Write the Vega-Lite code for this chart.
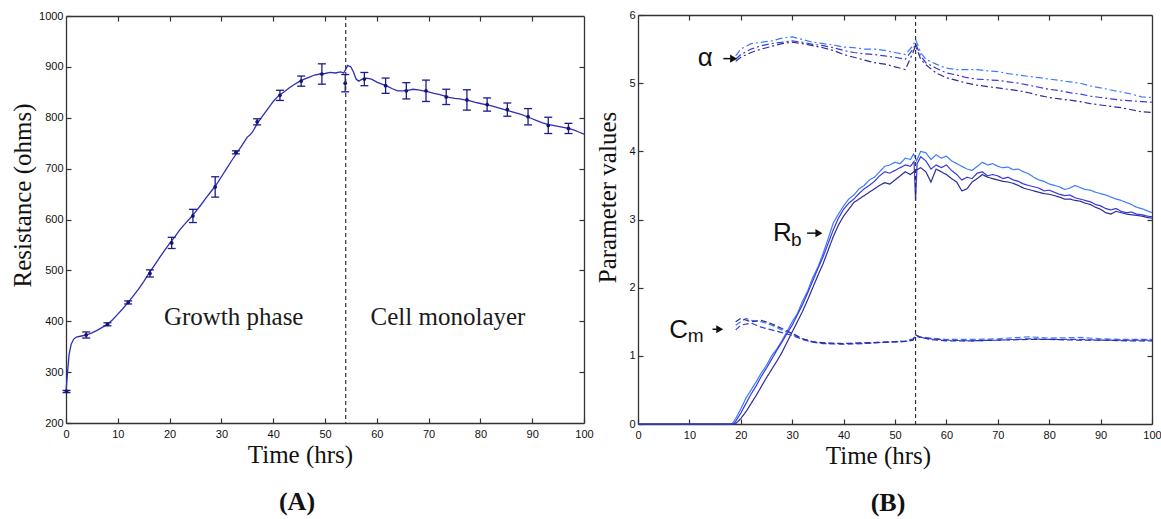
{
"$schema": "https://vega.github.io/schema/vega-lite/v6.json",
"background": "white",
"padding": {"left": 10, "top": 9, "right": 5, "bottom": 5},
"config": {
  "view": {"stroke": null},
  "font": "Liberation Sans",
  "axis": {"domainColor": "#333", "domainWidth": 1.3, "tickColor": "#333", "tickSize": -5, "tickWidth": 1.2, "labelFont": "Liberation Sans", "labelFontSize": 11, "labelColor": "#111", "grid": false, "titleFont": "Liberation Serif", "titleFontSize": 25, "titleFontWeight": "normal", "titleColor": "#111", "labelFlush": false, "labelOverlap": false, "format": "d"}
},
"datasets": {
  "lineA": [
    {"t":0,"v":262},{"t":0.3,"v":300},{"t":0.6,"v":335},{"t":1,"v":355},{"t":1.5,"v":365},{"t":2,"v":369},{"t":3,"v":371},{"t":4,"v":373},{"t":5,"v":377},{"t":6,"v":382},{"t":7,"v":388},{"t":8,"v":394},{"t":9,"v":403},{"t":10,"v":414},{"t":11,"v":425},{"t":12,"v":437},{"t":13,"v":450},{"t":14,"v":463},{"t":15,"v":478},{"t":16,"v":494},{"t":17,"v":509},{"t":18,"v":524},{"t":19,"v":539},{"t":20,"v":553},{"t":21,"v":566},{"t":22,"v":580},{"t":23,"v":592},{"t":24,"v":603},{"t":25,"v":615},{"t":26,"v":628},{"t":27,"v":642},{"t":28,"v":655},{"t":29,"v":668},{"t":30,"v":684},{"t":31,"v":700},{"t":32,"v":716},{"t":33,"v":731},{"t":34,"v":746},{"t":35,"v":762},{"t":35.5,"v":766},{"t":36,"v":772},{"t":37,"v":790},{"t":38,"v":804},{"t":39,"v":818},{"t":40,"v":832},{"t":41,"v":843},{"t":42,"v":850},{"t":43,"v":858},{"t":44,"v":865},{"t":45,"v":871},{"t":46,"v":876},{"t":47,"v":880},{"t":48,"v":884},{"t":49,"v":886},{"t":50,"v":887},{"t":51,"v":889},{"t":52,"v":888},{"t":53,"v":890},{"t":53.6,"v":888},{"t":54,"v":895},{"t":54.4,"v":903},{"t":55,"v":900},{"t":55.5,"v":890},{"t":56,"v":876},{"t":56.5,"v":872},{"t":57,"v":875},{"t":58,"v":878},{"t":59,"v":876},{"t":60,"v":870},{"t":61,"v":866},{"t":62,"v":862},{"t":63,"v":857},{"t":64,"v":853},{"t":65,"v":853},{"t":66,"v":854},{"t":67,"v":856},{"t":68,"v":855},{"t":69,"v":853},{"t":70,"v":851},{"t":71,"v":848},{"t":72,"v":846},{"t":73,"v":843},{"t":74,"v":840},{"t":75,"v":838},{"t":76,"v":837},{"t":77,"v":835},{"t":78,"v":833},{"t":79,"v":830},{"t":80,"v":828},{"t":81,"v":826},{"t":82,"v":824},{"t":83,"v":821},{"t":84,"v":818},{"t":85,"v":815},{"t":86,"v":812},{"t":87,"v":809},{"t":88,"v":806},{"t":89,"v":802},{"t":90,"v":798},{"t":91,"v":794},{"t":92,"v":790},{"t":93,"v":787},{"t":94,"v":785},{"t":95,"v":783},{"t":96,"v":781},{"t":97,"v":779},{"t":98,"v":776},{"t":99,"v":772},{"t":100,"v":768}
  ],
  "errA": [
    {"t":0.1,"v":262,"lo":260,"hi":264},{"t":3.9,"v":373,"lo":367,"hi":379},{"t":8,"v":394,"lo":391,"hi":397},{"t":12,"v":437,"lo":434,"hi":440},{"t":16.2,"v":494,"lo":487,"hi":501},{"t":20.4,"v":554,"lo":543,"hi":565},{"t":24.5,"v":607,"lo":594,"hi":620},{"t":28.8,"v":664,"lo":644,"hi":684},{"t":32.8,"v":732,"lo":729,"hi":735},{"t":36.9,"v":792,"lo":786,"hi":798},{"t":41.3,"v":844,"lo":834,"hi":854},{"t":45.4,"v":872,"lo":862,"hi":882},{"t":49.4,"v":886,"lo":866,"hi":906},{"t":53.9,"v":868,"lo":851,"hi":885},{"t":57.6,"v":876,"lo":863,"hi":889},{"t":61.7,"v":863,"lo":848,"hi":878},{"t":65.7,"v":853,"lo":837,"hi":869},{"t":69.5,"v":853,"lo":832,"hi":874},{"t":73.4,"v":841,"lo":826,"hi":856},{"t":77.4,"v":835,"lo":815,"hi":855},{"t":81.3,"v":826,"lo":813,"hi":839},{"t":85.2,"v":816,"lo":803,"hi":829},{"t":89.2,"v":802,"lo":786,"hi":818},{"t":93.1,"v":785,"lo":769,"hi":801},{"t":97,"v":779,"lo":769,"hi":789}
  ],
  "annA": [{"t":18.9,"v":392,"s":"Growth phase"},{"t":58.8,"v":392,"s":"Cell monolayer"}],
  "vline": [{"t":54}],
  "params": [
    {"p":"Rb","r":1,"t":0,"v":0},{"p":"Rb","r":1,"t":18.3,"v":0},{"p":"Rb","r":1,"t":19,"v":0.08},{"p":"Rb","r":1,"t":20,"v":0.22},{"p":"Rb","r":1,"t":21,"v":0.38},{"p":"Rb","r":1,"t":22,"v":0.5},{"p":"Rb","r":1,"t":23,"v":0.62},{"p":"Rb","r":1,"t":24,"v":0.75},{"p":"Rb","r":1,"t":25,"v":0.86},{"p":"Rb","r":1,"t":26,"v":1.0},{"p":"Rb","r":1,"t":27,"v":1.1},{"p":"Rb","r":1,"t":28,"v":1.22},{"p":"Rb","r":1,"t":29,"v":1.36},{"p":"Rb","r":1,"t":30,"v":1.5},{"p":"Rb","r":1,"t":31,"v":1.62},{"p":"Rb","r":1,"t":32,"v":1.8},{"p":"Rb","r":1,"t":33,"v":1.95},{"p":"Rb","r":1,"t":34,"v":2.15},{"p":"Rb","r":1,"t":35,"v":2.3},{"p":"Rb","r":1,"t":36,"v":2.5},{"p":"Rb","r":1,"t":37,"v":2.72},{"p":"Rb","r":1,"t":38,"v":2.95},{"p":"Rb","r":1,"t":39,"v":3.08},{"p":"Rb","r":1,"t":40,"v":3.2},{"p":"Rb","r":1,"t":41,"v":3.3},{"p":"Rb","r":1,"t":42,"v":3.36},{"p":"Rb","r":1,"t":43,"v":3.45},{"p":"Rb","r":1,"t":44,"v":3.5},{"p":"Rb","r":1,"t":45,"v":3.58},{"p":"Rb","r":1,"t":46,"v":3.62},{"p":"Rb","r":1,"t":47,"v":3.7},{"p":"Rb","r":1,"t":48,"v":3.78},{"p":"Rb","r":1,"t":49,"v":3.8},{"p":"Rb","r":1,"t":50,"v":3.84},{"p":"Rb","r":1,"t":51,"v":3.82},{"p":"Rb","r":1,"t":52,"v":3.9},{"p":"Rb","r":1,"t":53,"v":3.88},{"p":"Rb","r":1,"t":53.6,"v":3.96},{"p":"Rb","r":1,"t":54.2,"v":3.86},{"p":"Rb","r":1,"t":55,"v":4.0},{"p":"Rb","r":1,"t":56,"v":3.98},{"p":"Rb","r":1,"t":57,"v":3.88},{"p":"Rb","r":1,"t":58,"v":3.95},{"p":"Rb","r":1,"t":59,"v":3.9},{"p":"Rb","r":1,"t":60,"v":3.93},{"p":"Rb","r":1,"t":61,"v":3.86},{"p":"Rb","r":1,"t":62,"v":3.82},{"p":"Rb","r":1,"t":63,"v":3.78},{"p":"Rb","r":1,"t":64,"v":3.74},{"p":"Rb","r":1,"t":65,"v":3.72},{"p":"Rb","r":1,"t":66,"v":3.78},{"p":"Rb","r":1,"t":67,"v":3.84},{"p":"Rb","r":1,"t":68,"v":3.8},{"p":"Rb","r":1,"t":69,"v":3.82},{"p":"Rb","r":1,"t":70,"v":3.78},{"p":"Rb","r":1,"t":71,"v":3.76},{"p":"Rb","r":1,"t":72,"v":3.77},{"p":"Rb","r":1,"t":73,"v":3.73},{"p":"Rb","r":1,"t":74,"v":3.74},{"p":"Rb","r":1,"t":75,"v":3.7},{"p":"Rb","r":1,"t":76,"v":3.67},{"p":"Rb","r":1,"t":77,"v":3.62},{"p":"Rb","r":1,"t":78,"v":3.58},{"p":"Rb","r":1,"t":79,"v":3.56},{"p":"Rb","r":1,"t":80,"v":3.52},{"p":"Rb","r":1,"t":81,"v":3.5},{"p":"Rb","r":1,"t":82,"v":3.48},{"p":"Rb","r":1,"t":83,"v":3.44},{"p":"Rb","r":1,"t":84,"v":3.46},{"p":"Rb","r":1,"t":85,"v":3.5},{"p":"Rb","r":1,"t":86,"v":3.47},{"p":"Rb","r":1,"t":87,"v":3.44},{"p":"Rb","r":1,"t":88,"v":3.43},{"p":"Rb","r":1,"t":89,"v":3.4},{"p":"Rb","r":1,"t":90,"v":3.38},{"p":"Rb","r":1,"t":91,"v":3.36},{"p":"Rb","r":1,"t":92,"v":3.33},{"p":"Rb","r":1,"t":93,"v":3.3},{"p":"Rb","r":1,"t":94,"v":3.28},{"p":"Rb","r":1,"t":95,"v":3.25},{"p":"Rb","r":1,"t":96,"v":3.22},{"p":"Rb","r":1,"t":97,"v":3.18},{"p":"Rb","r":1,"t":98,"v":3.16},{"p":"Rb","r":1,"t":99,"v":3.13},{"p":"Rb","r":1,"t":100,"v":3.1},
    {"p":"Rb","r":2,"t":0,"v":0},{"p":"Rb","r":2,"t":18.6,"v":0},{"p":"Rb","r":2,"t":19,"v":0.04},{"p":"Rb","r":2,"t":20,"v":0.16},{"p":"Rb","r":2,"t":21,"v":0.3},{"p":"Rb","r":2,"t":22,"v":0.44},{"p":"Rb","r":2,"t":23,"v":0.56},{"p":"Rb","r":2,"t":24,"v":0.7},{"p":"Rb","r":2,"t":25,"v":0.82},{"p":"Rb","r":2,"t":26,"v":0.95},{"p":"Rb","r":2,"t":27,"v":1.08},{"p":"Rb","r":2,"t":28,"v":1.2},{"p":"Rb","r":2,"t":29,"v":1.33},{"p":"Rb","r":2,"t":30,"v":1.45},{"p":"Rb","r":2,"t":31,"v":1.6},{"p":"Rb","r":2,"t":32,"v":1.75},{"p":"Rb","r":2,"t":33,"v":1.92},{"p":"Rb","r":2,"t":34,"v":2.1},{"p":"Rb","r":2,"t":35,"v":2.28},{"p":"Rb","r":2,"t":36,"v":2.45},{"p":"Rb","r":2,"t":37,"v":2.65},{"p":"Rb","r":2,"t":38,"v":2.85},{"p":"Rb","r":2,"t":39,"v":3.02},{"p":"Rb","r":2,"t":40,"v":3.15},{"p":"Rb","r":2,"t":41,"v":3.24},{"p":"Rb","r":2,"t":42,"v":3.3},{"p":"Rb","r":2,"t":43,"v":3.38},{"p":"Rb","r":2,"t":44,"v":3.45},{"p":"Rb","r":2,"t":45,"v":3.5},{"p":"Rb","r":2,"t":46,"v":3.56},{"p":"Rb","r":2,"t":47,"v":3.64},{"p":"Rb","r":2,"t":48,"v":3.7},{"p":"Rb","r":2,"t":49,"v":3.68},{"p":"Rb","r":2,"t":50,"v":3.72},{"p":"Rb","r":2,"t":51,"v":3.76},{"p":"Rb","r":2,"t":52,"v":3.8},{"p":"Rb","r":2,"t":53,"v":3.78},{"p":"Rb","r":2,"t":53.7,"v":3.85},{"p":"Rb","r":2,"t":54,"v":3.27},{"p":"Rb","r":2,"t":54.3,"v":3.82},{"p":"Rb","r":2,"t":55,"v":3.92},{"p":"Rb","r":2,"t":56,"v":3.86},{"p":"Rb","r":2,"t":57,"v":3.74},{"p":"Rb","r":2,"t":58,"v":3.8},{"p":"Rb","r":2,"t":59,"v":3.76},{"p":"Rb","r":2,"t":60,"v":3.8},{"p":"Rb","r":2,"t":61,"v":3.72},{"p":"Rb","r":2,"t":62,"v":3.66},{"p":"Rb","r":2,"t":63,"v":3.58},{"p":"Rb","r":2,"t":64,"v":3.62},{"p":"Rb","r":2,"t":65,"v":3.6},{"p":"Rb","r":2,"t":66,"v":3.68},{"p":"Rb","r":2,"t":67,"v":3.7},{"p":"Rb","r":2,"t":68,"v":3.64},{"p":"Rb","r":2,"t":69,"v":3.66},{"p":"Rb","r":2,"t":70,"v":3.64},{"p":"Rb","r":2,"t":71,"v":3.6},{"p":"Rb","r":2,"t":72,"v":3.62},{"p":"Rb","r":2,"t":73,"v":3.58},{"p":"Rb","r":2,"t":74,"v":3.56},{"p":"Rb","r":2,"t":75,"v":3.52},{"p":"Rb","r":2,"t":76,"v":3.5},{"p":"Rb","r":2,"t":77,"v":3.48},{"p":"Rb","r":2,"t":78,"v":3.46},{"p":"Rb","r":2,"t":79,"v":3.42},{"p":"Rb","r":2,"t":80,"v":3.43},{"p":"Rb","r":2,"t":81,"v":3.4},{"p":"Rb","r":2,"t":82,"v":3.37},{"p":"Rb","r":2,"t":83,"v":3.35},{"p":"Rb","r":2,"t":84,"v":3.36},{"p":"Rb","r":2,"t":85,"v":3.32},{"p":"Rb","r":2,"t":86,"v":3.3},{"p":"Rb","r":2,"t":87,"v":3.28},{"p":"Rb","r":2,"t":88,"v":3.26},{"p":"Rb","r":2,"t":89,"v":3.22},{"p":"Rb","r":2,"t":90,"v":3.2},{"p":"Rb","r":2,"t":91,"v":3.16},{"p":"Rb","r":2,"t":92,"v":3.14},{"p":"Rb","r":2,"t":93,"v":3.16},{"p":"Rb","r":2,"t":94,"v":3.12},{"p":"Rb","r":2,"t":95,"v":3.1},{"p":"Rb","r":2,"t":96,"v":3.11},{"p":"Rb","r":2,"t":97,"v":3.08},{"p":"Rb","r":2,"t":98,"v":3.07},{"p":"Rb","r":2,"t":99,"v":3.05},{"p":"Rb","r":2,"t":100,"v":3.04},
    {"p":"Rb","r":3,"t":0,"v":0},{"p":"Rb","r":3,"t":18.9,"v":0},{"p":"Rb","r":3,"t":19.5,"v":0.04},{"p":"Rb","r":3,"t":20,"v":0.08},{"p":"Rb","r":3,"t":21,"v":0.18},{"p":"Rb","r":3,"t":22,"v":0.3},{"p":"Rb","r":3,"t":23,"v":0.42},{"p":"Rb","r":3,"t":24,"v":0.55},{"p":"Rb","r":3,"t":25,"v":0.68},{"p":"Rb","r":3,"t":26,"v":0.8},{"p":"Rb","r":3,"t":27,"v":0.92},{"p":"Rb","r":3,"t":28,"v":1.05},{"p":"Rb","r":3,"t":29,"v":1.2},{"p":"Rb","r":3,"t":30,"v":1.35},{"p":"Rb","r":3,"t":31,"v":1.5},{"p":"Rb","r":3,"t":32,"v":1.65},{"p":"Rb","r":3,"t":33,"v":1.82},{"p":"Rb","r":3,"t":34,"v":2.0},{"p":"Rb","r":3,"t":35,"v":2.18},{"p":"Rb","r":3,"t":36,"v":2.35},{"p":"Rb","r":3,"t":37,"v":2.55},{"p":"Rb","r":3,"t":38,"v":2.75},{"p":"Rb","r":3,"t":39,"v":2.92},{"p":"Rb","r":3,"t":40,"v":3.05},{"p":"Rb","r":3,"t":41,"v":3.15},{"p":"Rb","r":3,"t":42,"v":3.25},{"p":"Rb","r":3,"t":43,"v":3.3},{"p":"Rb","r":3,"t":44,"v":3.35},{"p":"Rb","r":3,"t":45,"v":3.4},{"p":"Rb","r":3,"t":46,"v":3.45},{"p":"Rb","r":3,"t":47,"v":3.5},{"p":"Rb","r":3,"t":48,"v":3.54},{"p":"Rb","r":3,"t":49,"v":3.52},{"p":"Rb","r":3,"t":50,"v":3.58},{"p":"Rb","r":3,"t":51,"v":3.64},{"p":"Rb","r":3,"t":52,"v":3.7},{"p":"Rb","r":3,"t":53,"v":3.66},{"p":"Rb","r":3,"t":54,"v":3.72},{"p":"Rb","r":3,"t":55,"v":3.76},{"p":"Rb","r":3,"t":56,"v":3.7},{"p":"Rb","r":3,"t":57,"v":3.55},{"p":"Rb","r":3,"t":58,"v":3.74},{"p":"Rb","r":3,"t":59,"v":3.7},{"p":"Rb","r":3,"t":60,"v":3.66},{"p":"Rb","r":3,"t":61,"v":3.6},{"p":"Rb","r":3,"t":62,"v":3.55},{"p":"Rb","r":3,"t":63,"v":3.42},{"p":"Rb","r":3,"t":64,"v":3.45},{"p":"Rb","r":3,"t":65,"v":3.55},{"p":"Rb","r":3,"t":66,"v":3.6},{"p":"Rb","r":3,"t":67,"v":3.66},{"p":"Rb","r":3,"t":68,"v":3.62},{"p":"Rb","r":3,"t":69,"v":3.6},{"p":"Rb","r":3,"t":70,"v":3.58},{"p":"Rb","r":3,"t":71,"v":3.56},{"p":"Rb","r":3,"t":72,"v":3.55},{"p":"Rb","r":3,"t":73,"v":3.53},{"p":"Rb","r":3,"t":74,"v":3.5},{"p":"Rb","r":3,"t":75,"v":3.46},{"p":"Rb","r":3,"t":76,"v":3.44},{"p":"Rb","r":3,"t":77,"v":3.42},{"p":"Rb","r":3,"t":78,"v":3.4},{"p":"Rb","r":3,"t":79,"v":3.38},{"p":"Rb","r":3,"t":80,"v":3.37},{"p":"Rb","r":3,"t":81,"v":3.35},{"p":"Rb","r":3,"t":82,"v":3.33},{"p":"Rb","r":3,"t":83,"v":3.3},{"p":"Rb","r":3,"t":84,"v":3.3},{"p":"Rb","r":3,"t":85,"v":3.28},{"p":"Rb","r":3,"t":86,"v":3.27},{"p":"Rb","r":3,"t":87,"v":3.24},{"p":"Rb","r":3,"t":88,"v":3.22},{"p":"Rb","r":3,"t":89,"v":3.18},{"p":"Rb","r":3,"t":90,"v":3.15},{"p":"Rb","r":3,"t":91,"v":3.1},{"p":"Rb","r":3,"t":92,"v":3.08},{"p":"Rb","r":3,"t":93,"v":3.12},{"p":"Rb","r":3,"t":94,"v":3.1},{"p":"Rb","r":3,"t":95,"v":3.08},{"p":"Rb","r":3,"t":96,"v":3.07},{"p":"Rb","r":3,"t":97,"v":3.06},{"p":"Rb","r":3,"t":98,"v":3.05},{"p":"Rb","r":3,"t":99,"v":3.03},{"p":"Rb","r":3,"t":100,"v":3.02},
    {"p":"a","r":1,"t":19,"v":5.4},{"p":"a","r":1,"t":20,"v":5.5},{"p":"a","r":1,"t":22,"v":5.58},{"p":"a","r":1,"t":24,"v":5.6},{"p":"a","r":1,"t":26,"v":5.62},{"p":"a","r":1,"t":28,"v":5.66},{"p":"a","r":1,"t":30,"v":5.68},{"p":"a","r":1,"t":32,"v":5.64},{"p":"a","r":1,"t":34,"v":5.6},{"p":"a","r":1,"t":36,"v":5.58},{"p":"a","r":1,"t":38,"v":5.56},{"p":"a","r":1,"t":40,"v":5.53},{"p":"a","r":1,"t":42,"v":5.52},{"p":"a","r":1,"t":44,"v":5.5},{"p":"a","r":1,"t":46,"v":5.5},{"p":"a","r":1,"t":48,"v":5.48},{"p":"a","r":1,"t":50,"v":5.45},{"p":"a","r":1,"t":52,"v":5.42},{"p":"a","r":1,"t":53.5,"v":5.55},{"p":"a","r":1,"t":54,"v":5.64},{"p":"a","r":1,"t":55,"v":5.45},{"p":"a","r":1,"t":56,"v":5.35},{"p":"a","r":1,"t":58,"v":5.28},{"p":"a","r":1,"t":60,"v":5.22},{"p":"a","r":1,"t":62,"v":5.2},{"p":"a","r":1,"t":64,"v":5.2},{"p":"a","r":1,"t":66,"v":5.2},{"p":"a","r":1,"t":68,"v":5.18},{"p":"a","r":1,"t":70,"v":5.17},{"p":"a","r":1,"t":72,"v":5.14},{"p":"a","r":1,"t":74,"v":5.12},{"p":"a","r":1,"t":76,"v":5.1},{"p":"a","r":1,"t":78,"v":5.08},{"p":"a","r":1,"t":80,"v":5.06},{"p":"a","r":1,"t":82,"v":5.04},{"p":"a","r":1,"t":84,"v":5.02},{"p":"a","r":1,"t":86,"v":5.0},{"p":"a","r":1,"t":88,"v":4.96},{"p":"a","r":1,"t":90,"v":4.93},{"p":"a","r":1,"t":92,"v":4.9},{"p":"a","r":1,"t":94,"v":4.87},{"p":"a","r":1,"t":96,"v":4.84},{"p":"a","r":1,"t":98,"v":4.8},{"p":"a","r":1,"t":100,"v":4.79},
    {"p":"a","r":2,"t":19,"v":5.35},{"p":"a","r":2,"t":20,"v":5.42},{"p":"a","r":2,"t":22,"v":5.5},{"p":"a","r":2,"t":24,"v":5.55},{"p":"a","r":2,"t":26,"v":5.58},{"p":"a","r":2,"t":28,"v":5.6},{"p":"a","r":2,"t":30,"v":5.62},{"p":"a","r":2,"t":32,"v":5.6},{"p":"a","r":2,"t":34,"v":5.57},{"p":"a","r":2,"t":36,"v":5.55},{"p":"a","r":2,"t":38,"v":5.52},{"p":"a","r":2,"t":40,"v":5.48},{"p":"a","r":2,"t":42,"v":5.45},{"p":"a","r":2,"t":44,"v":5.43},{"p":"a","r":2,"t":46,"v":5.42},{"p":"a","r":2,"t":48,"v":5.4},{"p":"a","r":2,"t":50,"v":5.38},{"p":"a","r":2,"t":52,"v":5.35},{"p":"a","r":2,"t":53.5,"v":5.5},{"p":"a","r":2,"t":54,"v":5.58},{"p":"a","r":2,"t":55,"v":5.4},{"p":"a","r":2,"t":56,"v":5.3},{"p":"a","r":2,"t":58,"v":5.22},{"p":"a","r":2,"t":60,"v":5.15},{"p":"a","r":2,"t":62,"v":5.12},{"p":"a","r":2,"t":64,"v":5.08},{"p":"a","r":2,"t":66,"v":5.06},{"p":"a","r":2,"t":68,"v":5.05},{"p":"a","r":2,"t":70,"v":5.04},{"p":"a","r":2,"t":72,"v":5.02},{"p":"a","r":2,"t":74,"v":5.0},{"p":"a","r":2,"t":76,"v":4.97},{"p":"a","r":2,"t":78,"v":4.94},{"p":"a","r":2,"t":80,"v":4.91},{"p":"a","r":2,"t":82,"v":4.89},{"p":"a","r":2,"t":84,"v":4.86},{"p":"a","r":2,"t":86,"v":4.84},{"p":"a","r":2,"t":88,"v":4.81},{"p":"a","r":2,"t":90,"v":4.79},{"p":"a","r":2,"t":92,"v":4.77},{"p":"a","r":2,"t":94,"v":4.75},{"p":"a","r":2,"t":96,"v":4.74},{"p":"a","r":2,"t":98,"v":4.73},{"p":"a","r":2,"t":100,"v":4.72},
    {"p":"a","r":3,"t":19,"v":5.32},{"p":"a","r":3,"t":20,"v":5.38},{"p":"a","r":3,"t":22,"v":5.45},{"p":"a","r":3,"t":24,"v":5.5},{"p":"a","r":3,"t":26,"v":5.54},{"p":"a","r":3,"t":28,"v":5.58},{"p":"a","r":3,"t":30,"v":5.6},{"p":"a","r":3,"t":32,"v":5.58},{"p":"a","r":3,"t":34,"v":5.55},{"p":"a","r":3,"t":36,"v":5.52},{"p":"a","r":3,"t":38,"v":5.48},{"p":"a","r":3,"t":40,"v":5.42},{"p":"a","r":3,"t":42,"v":5.38},{"p":"a","r":3,"t":44,"v":5.34},{"p":"a","r":3,"t":46,"v":5.3},{"p":"a","r":3,"t":48,"v":5.28},{"p":"a","r":3,"t":50,"v":5.24},{"p":"a","r":3,"t":52,"v":5.2},{"p":"a","r":3,"t":53.5,"v":5.45},{"p":"a","r":3,"t":54,"v":5.55},{"p":"a","r":3,"t":55,"v":5.35},{"p":"a","r":3,"t":56,"v":5.27},{"p":"a","r":3,"t":58,"v":5.15},{"p":"a","r":3,"t":60,"v":5.08},{"p":"a","r":3,"t":62,"v":5.04},{"p":"a","r":3,"t":64,"v":5.0},{"p":"a","r":3,"t":66,"v":4.97},{"p":"a","r":3,"t":68,"v":4.95},{"p":"a","r":3,"t":70,"v":4.93},{"p":"a","r":3,"t":72,"v":4.91},{"p":"a","r":3,"t":74,"v":4.89},{"p":"a","r":3,"t":76,"v":4.86},{"p":"a","r":3,"t":78,"v":4.82},{"p":"a","r":3,"t":80,"v":4.79},{"p":"a","r":3,"t":82,"v":4.77},{"p":"a","r":3,"t":84,"v":4.75},{"p":"a","r":3,"t":86,"v":4.73},{"p":"a","r":3,"t":88,"v":4.7},{"p":"a","r":3,"t":90,"v":4.68},{"p":"a","r":3,"t":92,"v":4.66},{"p":"a","r":3,"t":94,"v":4.64},{"p":"a","r":3,"t":96,"v":4.61},{"p":"a","r":3,"t":98,"v":4.58},{"p":"a","r":3,"t":100,"v":4.57},
    {"p":"Cm","r":1,"t":19,"v":1.45},{"p":"Cm","r":1,"t":20,"v":1.5},{"p":"Cm","r":1,"t":21,"v":1.55},{"p":"Cm","r":1,"t":22,"v":1.52},{"p":"Cm","r":1,"t":24,"v":1.5},{"p":"Cm","r":1,"t":26,"v":1.45},{"p":"Cm","r":1,"t":28,"v":1.38},{"p":"Cm","r":1,"t":30,"v":1.32},{"p":"Cm","r":1,"t":32,"v":1.25},{"p":"Cm","r":1,"t":34,"v":1.2},{"p":"Cm","r":1,"t":36,"v":1.19},{"p":"Cm","r":1,"t":40,"v":1.18},{"p":"Cm","r":1,"t":44,"v":1.19},{"p":"Cm","r":1,"t":48,"v":1.2},{"p":"Cm","r":1,"t":52,"v":1.22},{"p":"Cm","r":1,"t":53.5,"v":1.25},{"p":"Cm","r":1,"t":54,"v":1.3},{"p":"Cm","r":1,"t":55,"v":1.28},{"p":"Cm","r":1,"t":57,"v":1.26},{"p":"Cm","r":1,"t":60,"v":1.24},{"p":"Cm","r":1,"t":65,"v":1.24},{"p":"Cm","r":1,"t":70,"v":1.25},{"p":"Cm","r":1,"t":76,"v":1.28},{"p":"Cm","r":1,"t":80,"v":1.26},{"p":"Cm","r":1,"t":86,"v":1.27},{"p":"Cm","r":1,"t":90,"v":1.25},{"p":"Cm","r":1,"t":95,"v":1.24},{"p":"Cm","r":1,"t":100,"v":1.24},
    {"p":"Cm","r":2,"t":19,"v":1.38},{"p":"Cm","r":2,"t":20,"v":1.45},{"p":"Cm","r":2,"t":22,"v":1.48},{"p":"Cm","r":2,"t":24,"v":1.42},{"p":"Cm","r":2,"t":26,"v":1.38},{"p":"Cm","r":2,"t":28,"v":1.34},{"p":"Cm","r":2,"t":30,"v":1.3},{"p":"Cm","r":2,"t":32,"v":1.24},{"p":"Cm","r":2,"t":34,"v":1.2},{"p":"Cm","r":2,"t":36,"v":1.18},{"p":"Cm","r":2,"t":40,"v":1.17},{"p":"Cm","r":2,"t":44,"v":1.18},{"p":"Cm","r":2,"t":48,"v":1.2},{"p":"Cm","r":2,"t":52,"v":1.21},{"p":"Cm","r":2,"t":53.5,"v":1.24},{"p":"Cm","r":2,"t":54,"v":1.29},{"p":"Cm","r":2,"t":55,"v":1.27},{"p":"Cm","r":2,"t":57,"v":1.25},{"p":"Cm","r":2,"t":60,"v":1.23},{"p":"Cm","r":2,"t":65,"v":1.22},{"p":"Cm","r":2,"t":70,"v":1.23},{"p":"Cm","r":2,"t":76,"v":1.25},{"p":"Cm","r":2,"t":80,"v":1.24},{"p":"Cm","r":2,"t":86,"v":1.24},{"p":"Cm","r":2,"t":90,"v":1.23},{"p":"Cm","r":2,"t":95,"v":1.23},{"p":"Cm","r":2,"t":100,"v":1.23},
    {"p":"Cm","r":3,"t":19,"v":1.5},{"p":"Cm","r":3,"t":20,"v":1.55},{"p":"Cm","r":3,"t":22,"v":1.5},{"p":"Cm","r":3,"t":24,"v":1.52},{"p":"Cm","r":3,"t":26,"v":1.47},{"p":"Cm","r":3,"t":28,"v":1.4},{"p":"Cm","r":3,"t":30,"v":1.33},{"p":"Cm","r":3,"t":32,"v":1.25},{"p":"Cm","r":3,"t":34,"v":1.21},{"p":"Cm","r":3,"t":36,"v":1.19},{"p":"Cm","r":3,"t":40,"v":1.18},{"p":"Cm","r":3,"t":44,"v":1.19},{"p":"Cm","r":3,"t":48,"v":1.2},{"p":"Cm","r":3,"t":52,"v":1.21},{"p":"Cm","r":3,"t":53.5,"v":1.23},{"p":"Cm","r":3,"t":54,"v":1.31},{"p":"Cm","r":3,"t":55,"v":1.27},{"p":"Cm","r":3,"t":57,"v":1.24},{"p":"Cm","r":3,"t":60,"v":1.22},{"p":"Cm","r":3,"t":65,"v":1.22},{"p":"Cm","r":3,"t":70,"v":1.23},{"p":"Cm","r":3,"t":76,"v":1.24},{"p":"Cm","r":3,"t":80,"v":1.24},{"p":"Cm","r":3,"t":86,"v":1.23},{"p":"Cm","r":3,"t":90,"v":1.23},{"p":"Cm","r":3,"t":95,"v":1.22},{"p":"Cm","r":3,"t":100,"v":1.22}
  ],
  "bigB": [{"t":13.1,"v":5.25,"s":"α"},{"t":28.1,"v":2.68,"s":"R"},{"t":7.9,"v":1.26,"s":"C"}],
  "subB": [{"t":30.8,"v":2.61,"s":"b"},{"t":11.2,"v":1.21,"s":"m"}],
  "arrB": [{"t":16.6,"t2":18.6,"v":5.36},{"t":32.9,"t2":35.2,"v":2.8},{"t":14.5,"t2":15.9,"v":1.39}]
},
"hconcat": [
  {
    "width": 518, "height": 407,
    "title": {"text": "(A)", "orient": "bottom", "anchor": "middle", "frame": "group", "font": "Liberation Serif", "fontSize": 26, "fontWeight": "bold", "color": "#111", "offset": 22, "dx": -28},
    "resolve": {"axis": {"x": "independent", "y": "independent"}},
    "layer": [
      {
        "data": {"name": "lineA"},
        "mark": {"type": "line", "color": "#2e2eb8", "strokeWidth": 1.3},
        "encoding": {
          "x": {"field": "t", "type": "quantitative", "scale": {"domain": [0, 100], "nice": false, "zero": false},
                "axis": {"orient": "bottom", "values": [0,10,20,30,40,50,60,70,80,90,100], "labelPadding": 10, "title": "Time (hrs)", "titleX": 234, "titleY": 39, "titleBaseline": "alphabetic"}},
          "y": {"field": "v", "type": "quantitative", "scale": {"domain": [200, 1000], "nice": false, "zero": false},
                "axis": {"orient": "left", "values": [200,300,400,500,600,700,800,900,1000], "labelPadding": 8, "title": "Resistance (ohms)", "titleX": -36, "titleY": 179, "titleBaseline": "alphabetic", "titleAngle": 270}}
        }
      },
      {
        "data": {"name": "errA"},
        "mark": {"type": "point", "opacity": 0},
        "encoding": {
          "x": {"field": "t", "type": "quantitative", "scale": {"domain": [0, 100], "nice": false, "zero": false},
                "axis": {"orient": "top", "values": [10,20,30,40,50,60,70,80,90], "labels": false, "title": null}},
          "y": {"field": "v", "type": "quantitative", "scale": {"domain": [200, 1000], "nice": false, "zero": false},
                "axis": {"orient": "right", "values": [300,400,500,600,700,800,900], "labels": false, "title": null}}
        }
      },
      {
        "data": {"name": "errA"},
        "mark": {"type": "rule", "color": "#1c1c8e", "strokeWidth": 1.3},
        "encoding": {
          "x": {"field": "t", "type": "quantitative", "axis": null},
          "y": {"field": "lo", "type": "quantitative", "axis": null},
          "y2": {"field": "hi"}
        }
      },
      {
        "data": {"name": "errA"},
        "mark": {"type": "tick", "orient": "horizontal", "size": 8, "thickness": 1.3, "color": "#1c1c8e", "opacity": 1},
        "encoding": {
          "x": {"field": "t", "type": "quantitative", "axis": null},
          "y": {"field": "lo", "type": "quantitative", "axis": null}
        }
      },
      {
        "data": {"name": "errA"},
        "mark": {"type": "tick", "orient": "horizontal", "size": 8, "thickness": 1.3, "color": "#1c1c8e", "opacity": 1},
        "encoding": {
          "x": {"field": "t", "type": "quantitative", "axis": null},
          "y": {"field": "hi", "type": "quantitative", "axis": null}
        }
      },
      {
        "data": {"name": "errA"},
        "mark": {"type": "point", "filled": true, "size": 14, "color": "#14146e", "opacity": 1},
        "encoding": {
          "x": {"field": "t", "type": "quantitative", "axis": null},
          "y": {"field": "v", "type": "quantitative", "axis": null}
        }
      },
      {
        "data": {"name": "vline"},
        "mark": {"type": "rule", "color": "#333", "strokeWidth": 1.2, "strokeDash": [4, 3]},
        "encoding": {"x": {"field": "t", "type": "quantitative", "axis": null}}
      },
      {
        "data": {"name": "annA"},
        "mark": {"type": "text", "align": "left", "baseline": "alphabetic", "font": "Liberation Serif", "fontSize": 25, "color": "#1a1a1a"},
        "encoding": {
          "x": {"field": "t", "type": "quantitative", "axis": null},
          "y": {"field": "v", "type": "quantitative", "axis": null},
          "text": {"field": "s"}
        }
      }
    ]
  },
  {
    "width": 514, "height": 409,
    "title": {"text": "(B)", "orient": "bottom", "anchor": "middle", "frame": "group", "font": "Liberation Serif", "fontSize": 26, "fontWeight": "bold", "color": "#111", "offset": 22, "dx": -7},
    "resolve": {"axis": {"x": "independent", "y": "independent"}},
    "layer": [
      {
        "data": {"name": "params"},
        "mark": {"type": "line", "strokeWidth": 1.2},
        "encoding": {
          "x": {"field": "t", "type": "quantitative", "scale": {"domain": [0, 100], "nice": false, "zero": false},
                "axis": {"orient": "bottom", "values": [0,10,20,30,40,50,60,70,80,90,100], "labelPadding": 10, "title": "Time (hrs)", "titleX": 240, "titleY": 39, "titleBaseline": "alphabetic"}},
          "y": {"field": "v", "type": "quantitative", "scale": {"domain": [0, 6], "nice": false, "zero": false},
                "axis": {"orient": "left", "values": [0,1,2,3,4,5,6], "labelPadding": 8, "title": "Parameter values", "titleX": -23, "titleY": 182, "titleBaseline": "alphabetic", "titleAngle": 270}},
          "color": {"field": "r", "type": "nominal", "scale": {"domain": [1, 2, 3], "range": ["#3d7cff", "#3838dd", "#2c2c9c"]}, "legend": null},
          "strokeDash": {"field": "p", "type": "nominal", "scale": {"domain": ["a", "Rb", "Cm"], "range": [[7, 3, 2, 3], [1, 0], [6, 3]]}, "legend": null}
        }
      },
      {
        "data": {"name": "bigB"},
        "mark": {"type": "point", "opacity": 0},
        "encoding": {
          "x": {"field": "t", "type": "quantitative", "scale": {"domain": [0, 100], "nice": false, "zero": false},
                "axis": {"orient": "top", "values": [10,20,30,40,50,60,70,80,90], "labels": false, "title": null}},
          "y": {"field": "v", "type": "quantitative", "scale": {"domain": [0, 6], "nice": false, "zero": false},
                "axis": {"orient": "right", "values": [1,2,3,4,5], "labels": false, "title": null}}
        }
      },
      {
        "data": {"name": "vline"},
        "mark": {"type": "rule", "color": "#333", "strokeWidth": 1.2, "strokeDash": [4, 3]},
        "encoding": {"x": {"field": "t", "type": "quantitative", "axis": null}}
      },
      {
        "data": {"name": "arrB"},
        "mark": {"type": "rule", "color": "#111", "strokeWidth": 1.5},
        "encoding": {
          "x": {"field": "t", "type": "quantitative", "axis": null},
          "x2": {"field": "t2"},
          "y": {"field": "v", "type": "quantitative", "axis": null}
        }
      },
      {
        "data": {"name": "arrB"},
        "mark": {"type": "point", "shape": "triangle-right", "filled": true, "size": 65, "color": "#111", "opacity": 1},
        "encoding": {
          "x": {"field": "t2", "type": "quantitative", "axis": null},
          "y": {"field": "v", "type": "quantitative", "axis": null}
        }
      },
      {
        "data": {"name": "bigB"},
        "mark": {"type": "text", "align": "center", "baseline": "alphabetic", "font": "Liberation Sans", "fontSize": 26, "color": "#111"},
        "encoding": {
          "x": {"field": "t", "type": "quantitative", "axis": null},
          "y": {"field": "v", "type": "quantitative", "axis": null},
          "text": {"field": "s"}
        }
      },
      {
        "data": {"name": "subB"},
        "mark": {"type": "text", "align": "center", "baseline": "alphabetic", "font": "Liberation Sans", "fontSize": 19, "color": "#111"},
        "encoding": {
          "x": {"field": "t", "type": "quantitative", "axis": null},
          "y": {"field": "v", "type": "quantitative", "axis": null},
          "text": {"field": "s"}
        }
      }
    ]
  }
],
"spacing": 54,
"bounds": "flush",
"center": true
}
